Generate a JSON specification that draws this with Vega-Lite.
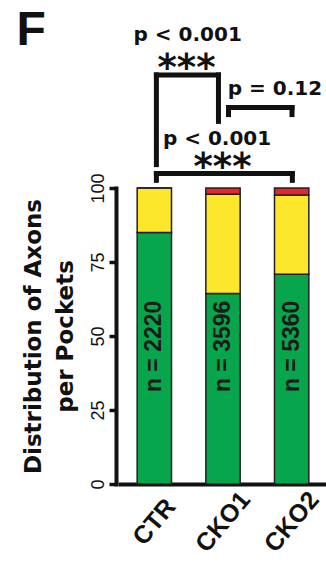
{
  "$schema": "https://vega.github.io/schema/vega-lite/v6.json",
  "width": 206,
  "height": 296,
  "autosize": {"type": "none"},
  "padding": {"left": 120, "top": 188, "right": 0, "bottom": 81},
  "background": "white",
  "config": {"view": {"stroke": null}},
  "datasets": {
    "bars": [
      {"genotype": "CTR", "class": "Green", "pct": 85, "ord": 1, "n": "n = 2220"},
      {"genotype": "CTR", "class": "Yellow", "pct": 15, "ord": 2},
      {"genotype": "CTR", "class": "Red", "pct": 0, "ord": 3},
      {"genotype": "CKO1", "class": "Green", "pct": 64.4, "ord": 1, "n": "n = 3596"},
      {"genotype": "CKO1", "class": "Yellow", "pct": 33.5, "ord": 2},
      {"genotype": "CKO1", "class": "Red", "pct": 2.1, "ord": 3},
      {"genotype": "CKO2", "class": "Green", "pct": 70.9, "ord": 1, "n": "n = 5360"},
      {"genotype": "CKO2", "class": "Yellow", "pct": 26.7, "ord": 2},
      {"genotype": "CKO2", "class": "Red", "pct": 2.4, "ord": 3}
    ],
    "segments": [
      {"x": 0.53, "x2": 1.434, "y": 138.2, "y2": 138.2},
      {"x": 0.53, "x2": 0.53, "y": 138.2, "y2": 107.9},
      {"x": 1.434, "x2": 1.434, "y": 138.2, "y2": 122.5},
      {"x": 1.58, "x2": 2.505, "y": 127.2, "y2": 127.2},
      {"x": 1.58, "x2": 1.58, "y": 127.2, "y2": 124.8},
      {"x": 2.505, "x2": 2.505, "y": 127.2, "y2": 124.8},
      {"x": 0.53, "x2": 2.51, "y": 104.9, "y2": 104.9},
      {"x": 0.53, "x2": 0.53, "y": 104.9, "y2": 102.6},
      {"x": 2.51, "x2": 2.51, "y": 104.9, "y2": 102.6}
    ],
    "pvals": [
      {"label": "p < 0.001", "x": 0.986, "y": 151.6},
      {"label": "p = 0.12", "x": 2.257, "y": 133.6},
      {"label": "p < 0.001", "x": 1.413, "y": 116.7}
    ],
    "stars": [
      {"label": "***", "x": 0.968, "y": 136.6},
      {"label": "***", "x": 1.493, "y": 103.1}
    ],
    "panel": [
      {"label": "F", "x": -1.507, "y": 148.3}
    ]
  },
  "layer": [
    {
      "data": {"name": "bars"},
      "encoding": {
        "x": {
          "field": "genotype",
          "type": "nominal",
          "sort": ["CTR", "CKO1", "CKO2"],
          "scale": {"paddingInner": 0.5, "paddingOuter": 0.25},
          "axis": {
            "title": null,
            "labels": false,
            "ticks": false,
            "domainWidth": 4,
            "domainColor": "#111111",
            "domainCap": "square"
          }
        }
      },
      "layer": [
        {
          "mark": {"type": "bar", "stroke": "#231f20", "strokeWidth": 1.5},
          "encoding": {
            "y": {
              "field": "pct",
              "type": "quantitative",
              "stack": "zero",
              "scale": {"domain": [0, 100], "nice": false},
              "axis": {
                "values": [0, 25, 50, 75, 100],
                "labelAngle": 270,
                "labelFont": "Liberation Sans",
                "labelFontSize": 18,
                "labelColor": "#111111",
                "labelPadding": 2,
                "tickSize": 7,
                "tickWidth": 3.5,
                "tickColor": "#111111",
                "domainWidth": 4,
                "domainColor": "#111111",
                "domainCap": "square",
                "offset": 4,
                "grid": false,
                "title": ["Distribution of Axons", "per Pockets"],
                "titleFont": "DejaVu Sans",
                "titleFontWeight": "bold",
                "titleFontSize": 23,
                "titleLineHeight": 32,
                "titleColor": "#111111",
                "titlePadding": 12
              }
            },
            "color": {
              "field": "class",
              "type": "nominal",
              "scale": {"domain": ["Green", "Yellow", "Red"], "range": ["#07a64c", "#fde72b", "#e5262c"]},
              "legend": null
            },
            "order": {"field": "ord", "type": "quantitative"}
          }
        },
        {
          "transform": [{"filter": "datum.class === 'Green'"}],
          "mark": {"type": "text", "angle": 270, "align": "center", "baseline": "middle", "font": "Liberation Sans", "fontWeight": "bold", "fontSize": 23, "color": "#1a1a1a"},
          "encoding": {
            "y": {"datum": 46.5, "type": "quantitative"},
            "text": {"field": "n", "type": "nominal"}
          }
        },
        {
          "transform": [{"filter": "datum.class === 'Green'"}],
          "mark": {"type": "text", "angle": 310, "align": "center", "baseline": "middle", "font": "Liberation Sans", "fontWeight": "bold", "fontSize": 25, "color": "#111111"},
          "encoding": {
            "y": {"datum": -12.8, "type": "quantitative"},
            "text": {"field": "genotype", "type": "nominal"}
          }
        }
      ]
    },
    {
      "data": {"name": "segments"},
      "mark": {"type": "rule", "strokeWidth": 5, "strokeCap": "square", "color": "#111111"},
      "encoding": {
        "x": {"field": "x", "type": "quantitative", "scale": {"domain": [0, 3], "nice": false, "zero": false}, "axis": null},
        "x2": {"field": "x2"},
        "y": {"field": "y", "type": "quantitative"},
        "y2": {"field": "y2"}
      }
    },
    {
      "data": {"name": "pvals"},
      "mark": {"type": "text", "align": "center", "baseline": "middle", "font": "DejaVu Sans", "fontWeight": "bold", "fontSize": 20, "color": "#111111"},
      "encoding": {
        "x": {"field": "x", "type": "quantitative", "scale": {"domain": [0, 3], "nice": false, "zero": false}, "axis": null},
        "y": {"field": "y", "type": "quantitative"},
        "text": {"field": "label", "type": "nominal"}
      }
    },
    {
      "data": {"name": "stars"},
      "mark": {"type": "text", "align": "center", "baseline": "alphabetic", "font": "DejaVu Sans", "fontWeight": "bold", "fontSize": 37, "color": "#111111"},
      "encoding": {
        "x": {"field": "x", "type": "quantitative", "scale": {"domain": [0, 3], "nice": false, "zero": false}, "axis": null},
        "y": {"field": "y", "type": "quantitative"},
        "text": {"field": "label", "type": "nominal"}
      }
    },
    {
      "data": {"name": "panel"},
      "mark": {"type": "text", "align": "left", "baseline": "alphabetic", "font": "Liberation Sans", "fontWeight": "bold", "fontSize": 48, "color": "#111111"},
      "encoding": {
        "x": {"field": "x", "type": "quantitative", "scale": {"domain": [0, 3], "nice": false, "zero": false}, "axis": null},
        "y": {"field": "y", "type": "quantitative"},
        "text": {"field": "label", "type": "nominal"}
      }
    }
  ],
  "resolve": {"scale": {"x": "independent"}}
}
